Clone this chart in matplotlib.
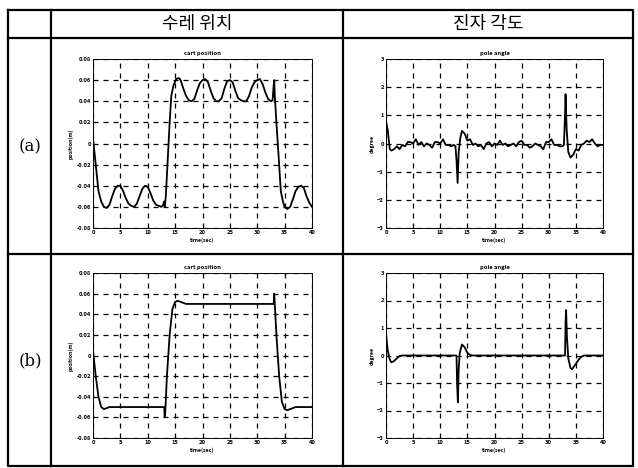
import matplotlib
matplotlib.use("Agg")
import matplotlib.pyplot as plt

plt.rcParams['font.family'] = ['Noto Sans CJK KR', 'DejaVu Sans']

col_titles = ["수레 위치", "진자 각도"]
row_titles = ["(a)", "(b)"]

# (a) cart position
cart_a_t = [0, 0.3, 0.7, 1, 1.5, 2, 2.5, 3, 3.5, 4, 4.5, 5, 5.5, 6, 6.5, 7, 7.5, 8, 8.5, 9, 9.5, 10,
            10.5, 11, 11.5, 12, 12.5, 12.8, 13.0, 13.1, 13.3, 13.6, 14, 14.3, 14.7, 15.2, 15.7, 16,
            16.5, 17, 17.5, 18, 18.5, 19, 19.5, 20, 20.5, 21, 21.5, 22, 22.5, 23, 23.5, 24, 24.5,
            25, 25.5, 26, 26.5, 27, 27.5, 28, 28.5, 29, 29.5, 30, 30.5, 31, 31.5, 32, 32.5, 32.8,
            33.0, 33.1, 33.2, 33.5, 34, 34.3, 34.7, 35, 35.5, 36, 36.5, 37, 37.5, 38, 38.5, 39,
            39.5, 40]
cart_a_y = [0.005, -0.01, -0.03, -0.045, -0.055, -0.06, -0.061, -0.058, -0.05, -0.043, -0.04, -0.04,
            -0.045, -0.052, -0.057, -0.059, -0.06, -0.057, -0.05, -0.043, -0.04, -0.041, -0.047,
            -0.054, -0.058, -0.059, -0.06, -0.058, -0.055, -0.06, -0.05, -0.02, 0.02, 0.045, 0.055,
            0.061, 0.062, 0.06, 0.052, 0.045, 0.041, 0.04, 0.042, 0.05, 0.057, 0.06, 0.061, 0.058,
            0.05, 0.043, 0.04, 0.04, 0.043, 0.052, 0.059, 0.06, 0.058, 0.05, 0.043, 0.041, 0.04,
            0.04, 0.045, 0.053, 0.058, 0.06, 0.061, 0.056, 0.048, 0.042, 0.04, 0.041, 0.055, 0.06,
            0.045, 0.02, -0.02, -0.045, -0.055, -0.06, -0.062, -0.06, -0.053, -0.045, -0.041, -0.04,
            -0.042, -0.05, -0.056, -0.06]

# (a) pole angle
pole_a_t = [0, 0.3, 0.7, 1, 1.5, 2, 2.5, 3, 3.5, 4, 4.5, 5, 5.5, 6, 6.5, 7, 7.5, 8, 8.5, 9, 9.5, 10,
            10.5, 11, 11.5, 12, 12.5, 12.8, 13.0, 13.2, 13.4, 13.7, 14, 14.5, 15, 15.5, 16, 16.5,
            17, 17.5, 18, 18.5, 19, 19.5, 20, 20.5, 21, 21.5, 22, 22.5, 23, 23.5, 24, 24.5, 25,
            25.5, 26, 26.5, 27, 27.5, 28, 28.5, 29, 29.5, 30, 30.5, 31, 31.5, 32, 32.5, 32.8, 33.0,
            33.1, 33.3, 33.6, 34, 34.5, 35, 35.5, 36, 36.5, 37, 37.5, 38, 38.5, 39, 39.5, 40]
pole_a_y = [0.8, 0.5, -0.2, -0.25, -0.2, -0.1, -0.2, -0.05, -0.1, 0.05, 0.05, 0.0, 0.15, -0.05, 0.05,
            -0.1, 0.0, -0.05, -0.15, 0.05, 0.05, 0.0, 0.15, -0.05, -0.05, -0.1, -0.05, -0.1, -0.6,
            -1.4, -0.3, 0.2, 0.45, 0.35, 0.1, 0.15, -0.05, 0.0, -0.1, -0.05, -0.2, 0.0, 0.05, -0.1,
            0.0, -0.05, 0.1, -0.05, 0.0, -0.1, -0.05, 0.0, -0.1, 0.05, 0.1, -0.05, -0.05, -0.15,
            -0.1, 0.0, -0.05, -0.1, -0.2, 0.05, 0.05, 0.15, -0.05, -0.05, -0.1, -0.1, -0.05, 1.0,
            1.75, 0.5, -0.3, -0.5, -0.4, -0.2, -0.25, -0.05, 0.0, 0.1, 0.05, 0.15, 0.0, -0.1, -0.05,
            -0.05]

# (b) cart position
cart_b_t = [0, 0.5, 1, 1.5, 2, 2.5, 3, 13, 13.1, 13.2, 13.5, 14, 14.5, 15, 15.5, 16, 17, 33, 33.1,
            33.2, 33.5, 34, 34.5, 35, 35.5, 36, 37, 40]
cart_b_y = [0.005, -0.02, -0.04, -0.05, -0.052, -0.051, -0.05, -0.05, -0.06, -0.055, -0.02, 0.02,
            0.045, 0.052, 0.053, 0.052, 0.05, 0.05, 0.06, 0.05, 0.02, -0.02, -0.045, -0.052, -0.053,
            -0.052, -0.05, -0.05]

# (b) pole angle
pole_b_t = [0, 0.3, 0.7, 1, 1.5, 2, 2.5, 3, 13.0, 13.1, 13.25, 13.4, 13.6, 14, 14.5, 15, 15.5, 16,
            33, 33.1, 33.2, 33.35, 33.6, 34, 34.3, 35, 35.5, 36, 36.5, 40]
pole_b_y = [0.8, 0.2, -0.15, -0.25, -0.2, -0.1, -0.02, 0, 0, -1.0, -1.7, -0.5, 0.1, 0.4, 0.3, 0.1,
            0.02, 0, 0, 1.2, 1.65, 0.7, -0.1, -0.45, -0.5, -0.3, -0.15, -0.05, 0, 0]

cart_ticks = [-0.08, -0.06, -0.04, -0.02, 0, 0.02, 0.04, 0.06, 0.08]
cart_labels = ["-0.08", "-0.06", "-0.04", "-0.02", "0", "0.02", "0.04", "0.06", "0.08"]
pole_ticks = [-3, -2, -1, 0, 1, 2, 3]
x_ticks = [0, 5, 10, 15, 20, 25, 30, 35, 40]

W, H = 638, 468
fig = plt.figure(figsize=(W / 100, H / 100), dpi=100)

# table frame drawn on a background canvas (pixel units)
bg = fig.add_axes([0, 0, 1, 1])
bg.set_xlim(0, W)
bg.set_ylim(H, 0)
bg.axis("off")
lw = 1.6
bg.plot([8, 633, 633, 8, 8], [10, 10, 466, 466, 10], color="black", lw=lw)
bg.plot([8, 633], [38, 38], color="black", lw=lw)
bg.plot([8, 633], [254, 254], color="black", lw=lw)
bg.plot([51, 51], [10, 466], color="black", lw=lw)
bg.plot([343, 343], [10, 466], color="black", lw=lw)
bg.text(197, 24, col_titles[0], ha="center", va="center", fontsize=13)
bg.text(488, 24, col_titles[1], ha="center", va="center", fontsize=13)
bg.text(30, 147, row_titles[0], ha="center", va="center", fontsize=12, family="DejaVu Serif")
bg.text(30, 361, row_titles[1], ha="center", va="center", fontsize=12, family="DejaVu Serif")


def make_axes(rect, t, y, kind):
    ax = fig.add_axes([rect[0] / W, 1 - rect[3] / H, (rect[2] - rect[0]) / W, (rect[3] - rect[1]) / H])
    ax.plot(t, y, color="black", lw=1.3)
    ax.set_xlim(0, 40)
    ax.set_xticks(x_ticks)
    if kind == "cart":
        ax.set_ylim(-0.08, 0.08)
        ax.set_yticks(cart_ticks)
        ax.set_yticklabels(cart_labels)
        ax.set_title("cart position", fontsize=4.2, fontweight="bold", pad=3)
        ax.set_ylabel("position(m)", fontsize=3.8, fontweight="bold", labelpad=2)
    else:
        ax.set_ylim(-3, 3)
        ax.set_yticks(pole_ticks)
        ax.set_title("pole angle", fontsize=4.2, fontweight="bold", pad=3)
        ax.set_ylabel("degree", fontsize=3.8, fontweight="bold", labelpad=2)
    ax.set_xlabel("time(sec)", fontsize=3.8, fontweight="bold", labelpad=1.5)
    ax.grid(True, color="black", linestyle=(0, (4, 4)), lw=0.9)
    ax.tick_params(labelsize=4.2, length=1.5, width=0.5, pad=1.5, direction="in")
    for lab in ax.get_xticklabels() + ax.get_yticklabels():
        lab.set_fontweight("bold")
    for s in ax.spines.values():
        s.set_linewidth(0.7)
    return ax


make_axes((93, 59, 312, 228), cart_a_t, cart_a_y, "cart")
make_axes((386, 59, 603, 228), pole_a_t, pole_a_y, "pole")
make_axes((93, 273, 312, 438), cart_b_t, cart_b_y, "cart")
make_axes((386, 273, 603, 438), pole_b_t, pole_b_y, "pole")

fig.savefig("out.png", dpi=100)
